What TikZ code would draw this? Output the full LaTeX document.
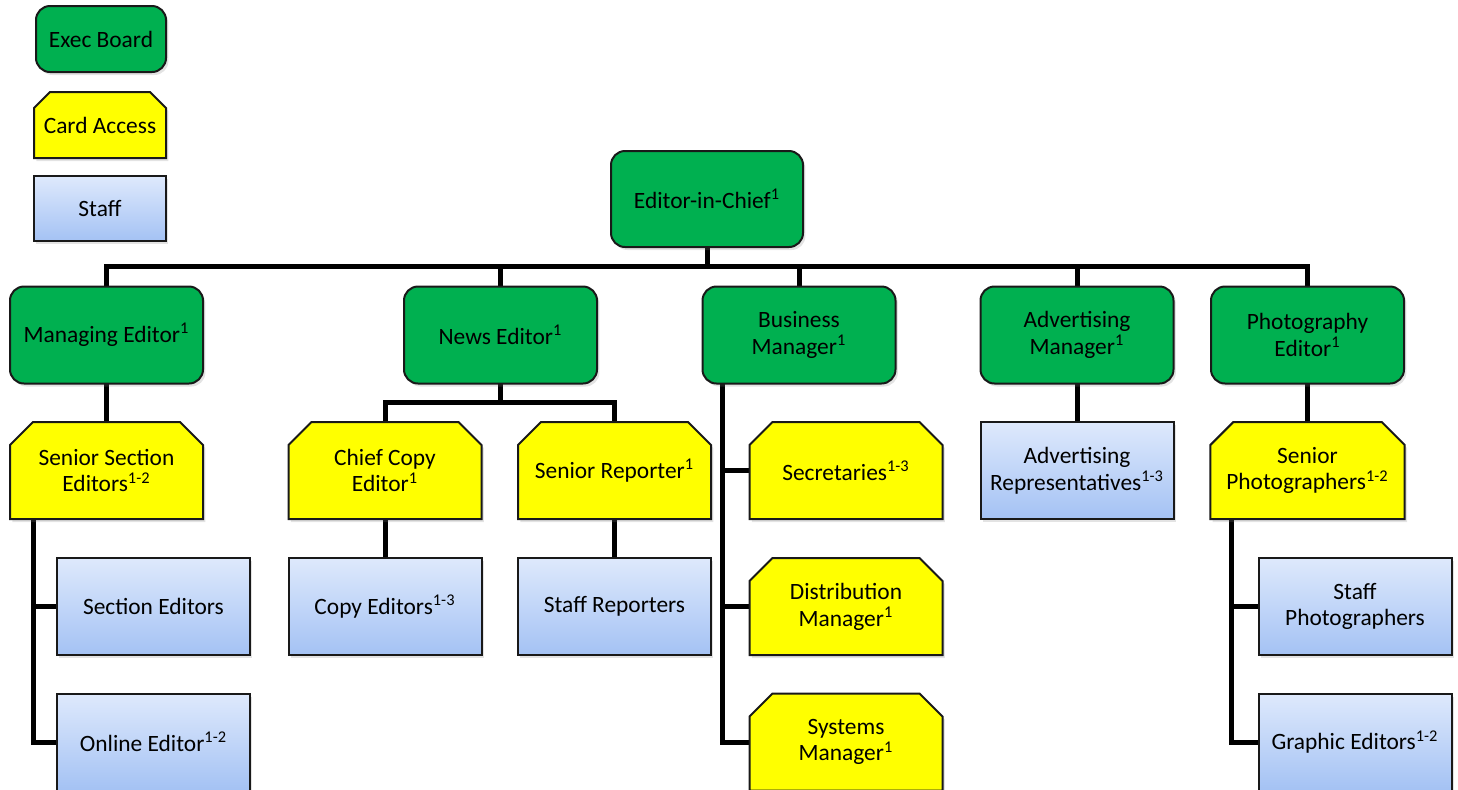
\documentclass[tikz,border=0pt]{standalone}
\usepackage{fontspec}
\setmainfont{Carlito}
\usetikzlibrary{shapes.misc,shadows,backgrounds,calc}
\definecolor{execgreen}{RGB}{0,176,80}
\definecolor{cardyellow}{RGB}{255,255,0}
\definecolor{stafftop}{RGB}{222,233,252}
\definecolor{staffbot}{RGB}{164,194,244}
\definecolor{edge}{RGB}{25,25,25}
\newcommand{\supx}[1]{\textsuperscript{#1}}
\tikzset{
  box/.style={draw=edge, line width=1pt, minimum width=96.5pt, minimum height=48.5pt,
    inner sep=2pt, align=center, font=\fontsize{11.7pt}{13.4pt}\selectfont,
    drop shadow={shadow xshift=1.2pt, shadow yshift=-1.5pt, opacity=0.22}},
  execbox/.style={box, rounded corners=7pt, fill=execgreen},
  cardbox/.style={box, chamfered rectangle, chamfered rectangle corners={north west,north east},
    chamfered rectangle xsep=6pt, chamfered rectangle ysep=5.5pt, fill=cardyellow},
  staffbox/.style={box, rectangle, top color=stafftop, bottom color=staffbot},
  conn/.style={line width=2.5pt, black, line cap=rect},
}
\begin{document}
\begin{tikzpicture}[x=0.5pt, y=-0.5pt]
\path[use as bounding box, clip] (0,0) rectangle (1458,789);
% legend
\node[execbox, minimum width=65pt, minimum height=33pt] (lgexec) at (101,39) {Exec Board};
\node[cardbox, minimum width=66pt, minimum height=33pt] (lgcard) at (100,125) {\makebox[0pt]{Card Access}};
\node[staffbox, minimum width=66pt, minimum height=32.5pt] (lgstaff) at (100,208.5) {Staff};
% top
\node[execbox, minimum width=96pt, minimum height=48pt] (eic) at (707,199) {Editor-in-Chief\supx{1}};
% level 2
\node[execbox] (me) at (106.5,335) {Managing Editor\supx{1}};
\node[execbox] (ne) at (500.5,335) {News Editor\supx{1}};
\node[execbox] (bm) at (799,335) {Business\\Manager\supx{1}};
\node[execbox] (am) at (1077,335) {Advertising\\Manager\supx{1}};
\node[execbox] (pe) at (1307.5,335) {Photography\\Editor\supx{1}};
% level 3
\node[cardbox] (sse) at (106.5,470.5) {Senior Section\\Editors\supx{1-2}};
\node[cardbox] (cce) at (385,470.5) {Chief Copy\\Editor\supx{1}};
\node[cardbox] (sr) at (614.5,470.5) {Senior Reporter\supx{1}};
\node[cardbox] (sec) at (846,470.5) {Secretaries\supx{1-3}};
\node[staffbox] (ar) at (1077,470.5) {Advertising\\Representatives\supx{1-3}};
\node[cardbox] (sph) at (1307.5,470.5) {Senior\\Photographers\supx{1-2}};
% level 4
\node[staffbox] (se) at (153.5,606.5) {Section Editors};
\node[staffbox] (ce) at (385,606.5) {Copy Editors\supx{1-3}};
\node[staffbox] (srp) at (614.5,606.5) {Staff Reporters};
\node[cardbox] (dm) at (846,606.5) {Distribution\\Manager\supx{1}};
\node[staffbox] (stp) at (1355,606.5) {Staff\\Photographers};
% level 5
\node[staffbox] (oe) at (153.5,742) {Online Editor\supx{1-2}};
\node[cardbox] (sm) at (846,742) {Systems\\Manager\supx{1}};
\node[staffbox] (ge) at (1355,742) {Graphic Editors\supx{1-2}};
% connector junctions
\coordinate (bus) at (707,266);
\coordinate (nbus) at (500.5,402);
\coordinate (ssebus) at (33,519);
\coordinate (bmbus) at (722,383);
\coordinate (sphbus) at (1231,519);
\begin{scope}[on background layer]
\draw[conn] (eic.south) -- (bus);
\draw[conn] (me.north) |- (bus) -| (pe.north);
\draw[conn] (ne.north) -- (ne.north |- bus);
\draw[conn] (bm.north) -- (bm.north |- bus);
\draw[conn] (am.north) -- (am.north |- bus);
\draw[conn] (me.south) -- (sse.north);
\draw[conn] (ssebus) |- (se.west);
\draw[conn] (ssebus) |- (oe.west);
\draw[conn] (ne.south) -- (nbus);
\draw[conn] (cce.north) |- (nbus) -| (sr.north);
\draw[conn] (cce.south) -- (ce.north);
\draw[conn] (sr.south) -- (srp.north);
\draw[conn] (bmbus) |- (sec.west);
\draw[conn] (bmbus) |- (dm.west);
\draw[conn] (bmbus) |- (sm.west);
\draw[conn] (am.south) -- (ar.north);
\draw[conn] (pe.south) -- (sph.north);
\draw[conn] (sphbus) |- (stp.west);
\draw[conn] (sphbus) |- (ge.west);
\end{scope}
\end{tikzpicture}
\end{document}
